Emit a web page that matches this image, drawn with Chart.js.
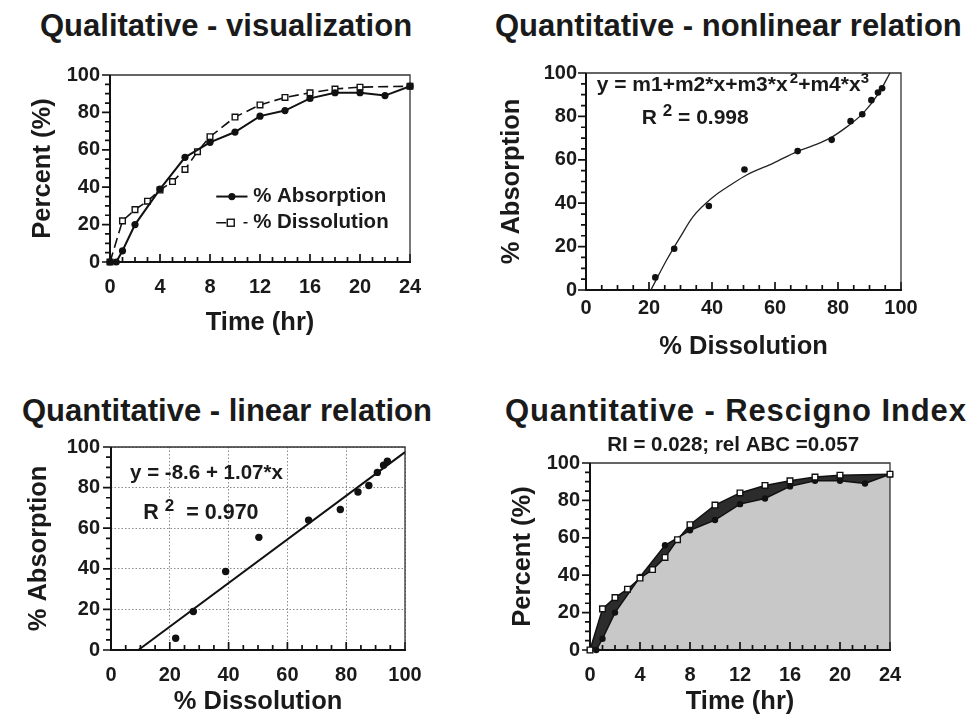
<!DOCTYPE html>
<html><head><meta charset="utf-8">
<script src="https://cdn.jsdelivr.net/npm/chart.js@4.4.1/dist/chart.umd.min.js"></script>
<style>
html,body{margin:0;padding:0;background:#fff;width:969px;height:715px;overflow:hidden;}
canvas{position:absolute;left:0;top:0;}
.ttl{position:absolute;font-family:'Liberation Sans',Arial,sans-serif;font-weight:bold;font-size:31px;line-height:31px;color:#1a1a1a;white-space:nowrap;}
</style></head><body>
<div class="ttl" style="left:40px;top:10px">Qualitative - visualization</div>
<div class="ttl" style="left:495px;top:10px">Quantitative - nonlinear relation</div>
<div class="ttl" style="left:22px;top:395px">Quantitative - linear relation</div>
<div class="ttl" style="left:505px;top:395px;letter-spacing:0.9px">Quantitative - Rescigno Index</div>
<canvas id="c1" width="969" height="715"></canvas>
<canvas id="c2" width="969" height="715"></canvas>
<canvas id="c3" width="969" height="715"></canvas>
<canvas id="c4" width="969" height="715"></canvas>
<script>
// ---------- data ----------
const timeAbsorption = [0, 0.5, 1, 2, 4, 6, 8, 10, 12, 14, 16, 18, 20, 22, 24];
const pctAbsorption  = [0, 0, 6, 20, 39, 56, 64, 69.5, 78, 81, 87.5, 90.5, 90.5, 89, 94];
const timeDissolution = [0, 1, 2, 3, 4, 5, 6, 7, 8, 10, 12, 14, 16, 18, 20, 24];
const pctDissolution  = [0, 22, 28, 32.5, 38.5, 43, 49.5, 59, 67, 77.5, 84, 88, 90.5, 92.5, 93.5, 94];
const pairDissolution = [22, 28, 39, 50.3, 67.2, 78, 84, 87.7, 90.6, 92.7, 94];
const pairAbsorption  = [5.8, 19, 38.7, 55.5, 64, 69.2, 77.8, 81, 87.5, 91, 93];
const cubicFitX = [20.6, 25.6, 30, 34, 40.5, 46, 51, 59.5, 67, 72, 77.5, 83, 88, 93, 96.5];
const cubicFitY = [0, 13.8, 24.6, 33.8, 43, 48.5, 53, 58.5, 63.8, 66.5, 70, 75.4, 81.5, 90.8, 100];
const linearFitX = [9.3, 100];
const linearFitY = [0, 97.5];
const timeTicks = [0, 4, 8, 12, 16, 20, 24];
const pctTicks = [0, 20, 40, 60, 80, 100];
const labels = {
  time: 'Time (hr)', pct: 'Percent (%)', abs: '% Absorption', diss: '% Dissolution',
  eqCubic: 'y = m1+m2*x+m3*x', r2Cubic: ' = 0.998', eqLin: 'y = -8.6 + 1.07*x', r2Lin: '  = 0.970',
  ri: 'RI = 0.028; rel ABC =0.057'
};

// ---------- helpers ----------
const FONT = "'Liberation Sans', Arial, sans-serif";
const INK = '#1a1a1a';
const pts = (xs, ys) => xs.map((v, i) => ({x: v, y: ys[i]}));

function linScale(o) {
  return {
    type: 'linear', min: o.min, max: o.max,
    afterBuildTicks: s => { s.ticks = o.ticks.map(v => ({value: v})); },
    afterFit: s => { if (o.width != null) s.width = o.width; if (o.height != null) s.height = o.height; },
    grid: {display: !!o.grid, drawTicks: false, color: '#8a8a8a', lineWidth: 1},
    border: {display: false, dash: o.grid ? [1.5, 2] : []},
    ticks: {padding: o.tickPad, color: INK, font: {family: FONT, size: 20, weight: 'bold', lineHeight: 1}},
    title: {display: true, text: o.title, color: INK,
            font: {family: FONT, size: 25.5, weight: 'bold', lineHeight: 1}, padding: o.titlePad}
  };
}

function makeFrame(cfg) {
  return {
    id: 'frameTicks',
    beforeDatasetsDraw(chart) {
      const ctx = chart.ctx, a = chart.chartArea, x = chart.scales.x, y = chart.scales.y;
      ctx.save();
      ctx.strokeStyle = '#111'; ctx.lineWidth = 1.7;
      ctx.beginPath();
      const nx = Math.round((x.max - x.min) / cfg.xMinor);
      for (let i = 0; i <= nx; i++) {
        const px = x.getPixelForValue(x.min + i * cfg.xMinor);
        const major = (i % Math.round(cfg.xMajor / cfg.xMinor)) === 0;
        ctx.moveTo(px, a.bottom); ctx.lineTo(px, a.bottom - (major ? 8 : 5));
      }
      const ny = Math.round((y.max - y.min) / cfg.yMinor);
      for (let i = 0; i <= ny; i++) {
        const py = y.getPixelForValue(y.min + i * cfg.yMinor);
        const major = (i % Math.round(cfg.yMajor / cfg.yMinor)) === 0;
        ctx.moveTo(a.left, py); ctx.lineTo(a.left - (major ? 8 : 5), py);
      }
      ctx.stroke();
      ctx.lineWidth = 1.3; ctx.strokeStyle = '#333';
      ctx.beginPath(); ctx.moveTo(a.left, a.top); ctx.lineTo(a.right, a.top); ctx.lineTo(a.right, a.bottom); ctx.stroke();
      ctx.lineWidth = 2; ctx.strokeStyle = '#111';
      ctx.beginPath(); ctx.moveTo(a.left, a.top); ctx.lineTo(a.left, a.bottom); ctx.lineTo(a.right + 1, a.bottom); ctx.stroke();
      ctx.restore();
    }
  };
}

function rich(ctx, x, y, parts) {
  let cx = x;
  for (const p of parts) {
    ctx.font = 'bold ' + p.s + 'px ' + FONT;
    ctx.fillText(p.t, cx, y + (p.dy || 0));
    cx += ctx.measureText(p.t).width;
  }
}

function baseOptions(o) {
  return {
    responsive: false, animation: false, events: [],
    layout: {padding: o.padding},
    plugins: {legend: {display: false}, tooltip: {enabled: false},
              filler: {propagate: false, drawTime: 'beforeDatasetsDraw'}},
    scales: {x: linScale(o.x), y: linScale(o.y)}
  };
}

// ---------- Panel 1 ----------
new Chart(document.getElementById('c1'), {
  type: 'line',
  data: {datasets: [
    {label: labels.abs, data: pts(timeAbsorption, pctAbsorption), borderColor: '#111', borderWidth: 2,
     pointRadius: 3.6, pointBackgroundColor: '#111', pointBorderWidth: 0, tension: 0, clip: false},
    {label: labels.diss, data: pts(timeDissolution, pctDissolution), borderColor: '#111', borderWidth: 1.6,
     borderDash: [10, 5], pointStyle: 'rect', pointRadius: 4, pointBackgroundColor: '#fff',
     pointBorderColor: '#111', pointBorderWidth: 1.4, tension: 0, clip: false}
  ]},
  options: baseOptions({
    padding: {left: 0, top: 75, right: 559, bottom: 370},
    x: {min: 0, max: 24, ticks: timeTicks, height: 83, tickPad: 15, title: labels.time, titlePad: {top: 0, bottom: 9}},
    y: {min: 0, max: 100, ticks: pctTicks, width: 110, tickPad: 10, title: labels.pct, titlePad: {top: 30, bottom: 0}}
  }),
  plugins: [makeFrame({xMinor: 1, xMajor: 4, yMinor: 5, yMajor: 20}), {
    id: 'legend1',
    afterDatasetsDraw(chart) {
      const {ctx, scales: {x, y}} = chart;
      const x0 = x.getPixelForValue(8.5), x1 = x.getPixelForValue(11), xt = x.getPixelForValue(11.45);
      const y1 = y.getPixelForValue(35), y2 = y.getPixelForValue(21);
      ctx.save();
      ctx.strokeStyle = '#111'; ctx.fillStyle = '#111'; ctx.lineWidth = 2;
      ctx.beginPath(); ctx.moveTo(x0, y1); ctx.lineTo(x1, y1); ctx.stroke();
      ctx.beginPath(); ctx.arc((x0 + x1) / 2, y1, 3.6, 0, Math.PI * 2); ctx.fill();
      ctx.lineWidth = 1.6;
      ctx.beginPath(); ctx.moveTo(x0, y2); ctx.lineTo(x0 + 10, y2); ctx.moveTo(x1 - 4, y2); ctx.lineTo(x1, y2); ctx.stroke();
      ctx.fillStyle = '#fff'; ctx.lineWidth = 1.4;
      ctx.fillRect(x0 + 11, y2 - 3.5, 7, 7); ctx.strokeRect(x0 + 11, y2 - 3.5, 7, 7);
      ctx.fillStyle = INK; ctx.textBaseline = 'middle'; ctx.textAlign = 'left';
      ctx.font = 'bold 20.5px ' + FONT;
      ctx.fillText(labels.abs, xt, y1);
      ctx.fillText(labels.diss, xt, y2);
      ctx.restore();
    }
  }]
});

// ---------- Panel 2 ----------
new Chart(document.getElementById('c2'), {
  type: 'line',
  data: {datasets: [
    {label: 'points', data: pts(pairDissolution, pairAbsorption), showLine: false,
     pointRadius: 3.3, pointBackgroundColor: '#111', pointBorderWidth: 0, clip: false},
    {label: 'fit', data: pts(cubicFitX, cubicFitY), borderColor: '#222', borderWidth: 1.3,
     pointRadius: 0, cubicInterpolationMode: 'monotone', clip: false}
  ]},
  options: baseOptions({
    padding: {left: 486, top: 73, right: 68, bottom: 343},
    x: {min: 0, max: 100, ticks: pctTicks, height: 82, tickPad: 8.5, title: labels.diss, titlePad: {top: 0, bottom: 12}},
    y: {min: 0, max: 100, ticks: pctTicks, width: 100, tickPad: 9, title: labels.abs, titlePad: {top: 13, bottom: 0}}
  }),
  plugins: [makeFrame({xMinor: 5, xMajor: 20, yMinor: 5, yMajor: 20}), {
    id: 'annot2',
    afterDatasetsDraw(chart) {
      const {ctx, scales: {x, y}} = chart;
      ctx.save(); ctx.fillStyle = INK; ctx.textBaseline = 'middle'; ctx.textAlign = 'left';
      rich(ctx, x.getPixelForValue(3.4), y.getPixelForValue(94.5),
        [{t: labels.eqCubic, s: 21}, {t: ' ', s: 8}, {t: '2', s: 15, dy: -6}, {t: '+m4*x', s: 21}, {t: '3', s: 15, dy: -6}]);
      rich(ctx, x.getPixelForValue(17.7), y.getPixelForValue(79.3),
        [{t: 'R ', s: 21}, {t: '2', s: 17, dy: -7}, {t: labels.r2Cubic, s: 21}]);
      ctx.restore();
    }
  }]
});

// ---------- Panel 3 ----------
new Chart(document.getElementById('c3'), {
  type: 'line',
  data: {datasets: [
    {label: 'points', data: pts(pairDissolution, pairAbsorption), showLine: false,
     pointRadius: 3.7, pointBackgroundColor: '#111', pointBorderWidth: 0, clip: false},
    {label: 'fit', data: pts(linearFitX, linearFitY), borderColor: '#111', borderWidth: 2,
     pointRadius: 0, clip: false}
  ]},
  options: baseOptions({
    padding: {left: 0, top: 447, right: 564, bottom: 0},
    x: {min: 0, max: 100, ticks: pctTicks, height: 65, tickPad: 15.5, title: labels.diss, titlePad: {top: 0, bottom: 0}, grid: true},
    y: {min: 0, max: 100, ticks: pctTicks, width: 111, tickPad: 11, title: labels.abs, titlePad: {top: 26, bottom: 0}, grid: true}
  }),
  plugins: [makeFrame({xMinor: 5, xMajor: 20, yMinor: 5, yMajor: 20}), {
    id: 'annot3',
    afterDatasetsDraw(chart) {
      const {ctx, scales: {x, y}} = chart;
      ctx.save(); ctx.fillStyle = INK; ctx.textBaseline = 'middle'; ctx.textAlign = 'left';
      rich(ctx, x.getPixelForValue(6.5), y.getPixelForValue(87), [{t: labels.eqLin, s: 20.5}]);
      rich(ctx, x.getPixelForValue(11), y.getPixelForValue(67.3),
        [{t: 'R ', s: 21.5}, {t: '2', s: 17, dy: -7}, {t: labels.r2Lin, s: 21.5}]);
      ctx.restore();
    }
  }]
});

// ---------- Panel 4 ----------
new Chart(document.getElementById('c4'), {
  type: 'line',
  data: {datasets: [
    {label: labels.diss, data: pts(timeDissolution, pctDissolution), borderColor: '#111', borderWidth: 1.5,
     pointStyle: 'rect', pointRadius: 4, pointBackgroundColor: '#fff', pointBorderColor: '#111',
     pointBorderWidth: 1.4, fill: 1, backgroundColor: '#2c2c2c', tension: 0, clip: false},
    {label: labels.abs, data: pts(timeAbsorption, pctAbsorption), borderColor: '#111', borderWidth: 1.5,
     pointRadius: 3.2, pointBackgroundColor: '#111', pointBorderWidth: 0, fill: 'origin',
     backgroundColor: '#c8c8c8', tension: 0, clip: false}
  ]},
  options: baseOptions({
    padding: {left: 490, top: 463, right: 79, bottom: 0},
    x: {min: 0, max: 24, ticks: timeTicks, height: 65, tickPad: 15.5, title: labels.time, titlePad: {top: 0, bottom: 0}},
    y: {min: 0, max: 100, ticks: pctTicks, width: 100, tickPad: 10, title: labels.pct, titlePad: {top: 20, bottom: 0}}
  }),
  plugins: [makeFrame({xMinor: 1, xMajor: 4, yMinor: 5, yMajor: 20}), {
    id: 'annot4',
    afterDatasetsDraw(chart) {
      const {ctx, scales: {x, y}} = chart;
      ctx.save(); ctx.fillStyle = INK; ctx.textBaseline = 'middle'; ctx.textAlign = 'center';
      ctx.font = 'bold 20.5px ' + FONT;
      ctx.fillText(labels.ri, x.getPixelForValue(11.45), y.getPixelForValue(109.6));
      ctx.restore();
    }
  }]
});
</script>
</body></html>
